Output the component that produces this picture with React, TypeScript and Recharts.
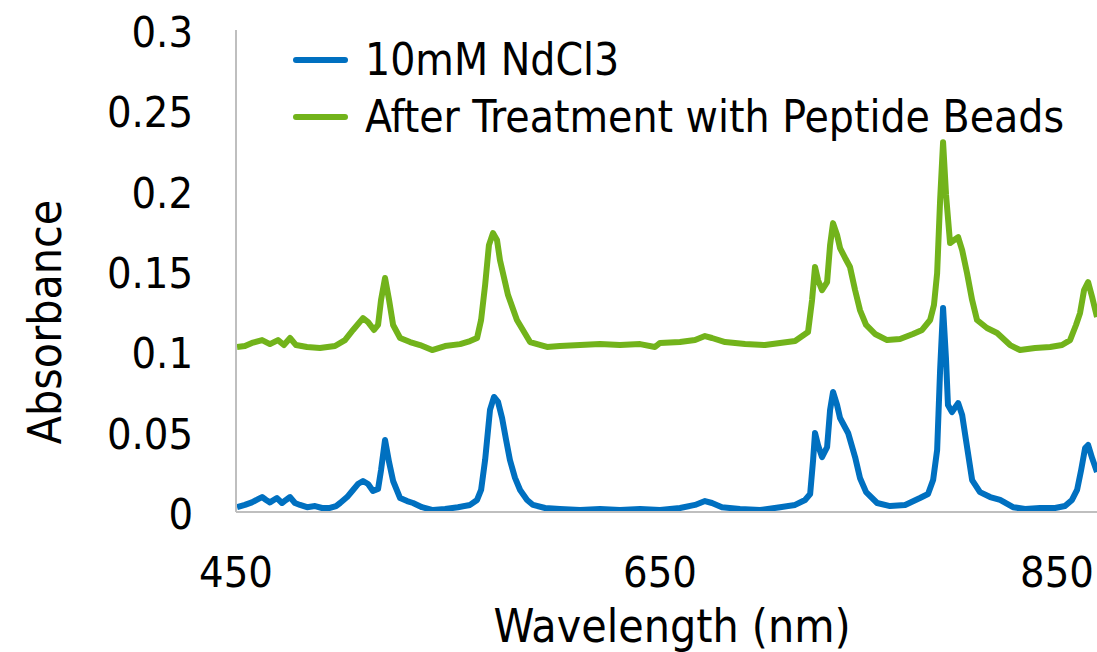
import { LineChart, Line, XAxis, YAxis, Legend, Label } from "recharts";

// wavelength (nm) and absorbance
const ndWavelength = [
  450.5, 454.2, 457.5, 460.4, 462.3, 464.2, 466.0, 469.3, 471.7, 473.6, 475.5, 477.8, 480.2, 483.5, 487.3,
  490.6, 494.3, 497.2, 499.1, 502.4, 505.2, 507.5, 509.9, 512.3, 514.6, 517.0, 518.4, 520.3, 522.2, 524.1,
  527.4, 530.7, 533.5, 537.7, 542.9, 548.6, 554.7, 560.4, 563.7, 565.6, 567.5, 569.8, 571.7, 573.6, 575.5,
  577.4, 579.2, 581.6, 584.0, 587.3, 590.1, 595.8, 602.8, 612.3, 621.7, 631.1, 640.6, 650.0, 659.4, 666.5,
  671.2, 674.5, 679.2, 687.7, 697.2, 706.6, 713.7, 718.4, 720.8, 722.2, 723.1, 724.5, 726.4, 728.8, 730.2,
  731.6, 733.5, 734.9, 738.7, 742.0, 744.3, 747.2, 752.4, 758.5, 765.6, 772.6, 776.4, 778.8, 780.7, 782.1,
  783.5, 784.9, 785.8, 787.7, 790.6, 792.5, 794.3, 797.2, 800.9, 805.7, 810.4, 816.5, 822.2, 829.2, 836.3,
  841.0, 844.3, 846.7, 848.6, 850.5, 851.9, 853.8, 856.1,
];
const ndAbsorbance = [
  0.003, 0.0044, 0.006, 0.008, 0.0093, 0.0075, 0.006, 0.0087, 0.0056, 0.0075, 0.0093, 0.0056, 0.0044, 0.003, 0.0037,
  0.0025, 0.0025, 0.0037, 0.0056, 0.0093, 0.0137, 0.0174, 0.0193, 0.0174, 0.0131, 0.0143, 0.026, 0.0448, 0.031, 0.0193,
  0.0087, 0.0068, 0.0056, 0.003, 0.0012, 0.0019, 0.003, 0.0044, 0.0075, 0.0137, 0.0324, 0.0635, 0.0716, 0.0685, 0.0585,
  0.0448, 0.0324, 0.0212, 0.0137, 0.0075, 0.0044, 0.0025, 0.0019, 0.0012, 0.0019, 0.0012, 0.0019, 0.0012, 0.0025, 0.0044,
  0.0068, 0.0056, 0.003, 0.0019, 0.0012, 0.003, 0.0044, 0.0075, 0.0112, 0.0324, 0.0492, 0.0417, 0.0342, 0.0404, 0.0635,
  0.0747, 0.0666, 0.0585, 0.0492, 0.0342, 0.0212, 0.0124, 0.0056, 0.0037, 0.0044, 0.0087, 0.0112, 0.0199, 0.0386, 0.0884,
  0.127, 0.0946, 0.0666, 0.0622, 0.0678, 0.0604, 0.0448, 0.0199, 0.0124, 0.0093, 0.0075, 0.003, 0.0019, 0.0025, 0.0025,
  0.0037, 0.0075, 0.0137, 0.026, 0.0398, 0.0417, 0.0336, 0.0249,
];

const beadWavelength = [
  450.5, 454.2, 457.5, 462.3, 466.0, 469.8, 472.6, 475.5, 478.3, 483.5, 489.6, 496.7, 501.4, 505.2, 509.9,
  512.3, 515.1, 517.0, 518.4, 520.3, 522.2, 524.1, 527.4, 532.1, 536.8, 542.5, 548.6, 555.7, 560.4, 563.7,
  565.6, 567.5, 569.3, 571.2, 573.1, 574.5, 578.3, 582.5, 588.7, 596.7, 602.8, 612.3, 621.7, 631.1, 640.6,
  647.6, 650.0, 659.4, 666.5, 671.2, 674.5, 680.7, 690.1, 699.5, 706.6, 713.7, 719.8, 721.7, 723.1, 724.5,
  726.4, 728.8, 730.2, 731.6, 733.5, 734.9, 737.3, 739.6, 742.0, 744.3, 747.2, 751.4, 757.1, 763.2, 769.3,
  773.6, 777.4, 779.2, 780.7, 782.1, 783.5, 784.9, 786.8, 788.7, 790.6, 792.5, 794.8, 797.2, 799.5, 804.2,
  809.0, 815.1, 819.8, 826.9, 834.0, 839.6, 843.4, 846.2, 848.1, 850.0, 851.9, 853.8, 856.1,
];
const beadAbsorbance = [
  0.1027, 0.1033, 0.1052, 0.107, 0.1045, 0.107, 0.1039, 0.1083, 0.1039, 0.1027, 0.1021, 0.1033, 0.107, 0.1133, 0.1207,
  0.1182, 0.1133, 0.1164, 0.1319, 0.1456, 0.1319, 0.1164, 0.1083, 0.1058, 0.1039, 0.1008, 0.1033, 0.1045, 0.1064, 0.1083,
  0.1195, 0.1413, 0.1661, 0.1736, 0.1693, 0.1568, 0.135, 0.1195, 0.1058, 0.1027, 0.1033, 0.1039, 0.1045, 0.1039, 0.1045,
  0.1027, 0.1052, 0.1058, 0.107, 0.1095, 0.1083, 0.1058, 0.1045, 0.1039, 0.1052, 0.1064, 0.112, 0.1319, 0.1525, 0.1444,
  0.1381, 0.1431, 0.1661, 0.1798, 0.1724, 0.1643, 0.1581, 0.1525, 0.1381, 0.1257, 0.1164, 0.1108, 0.107, 0.1077, 0.1108,
  0.1133, 0.1195, 0.1288, 0.1487, 0.1941, 0.2302, 0.1973, 0.1674, 0.1693, 0.1711, 0.163, 0.1487, 0.1319, 0.1195, 0.1145,
  0.1114, 0.1039, 0.1008, 0.1021, 0.1027, 0.1039, 0.107, 0.1164, 0.1238, 0.1381, 0.1431, 0.1338, 0.1213,
];

const xTicks = [450, 650, 850];
const yTicks = [0, 0.05, 0.1, 0.15, 0.2, 0.25, 0.3];
const seriesNames = ["10mM NdCl3", "After Treatment with Peptide Beads"];

const BLUE = "#0070C0";
const GREEN = "#72B31B";
const FONT = "'DejaVu Sans Condensed', 'DejaVu Sans', sans-serif";

const ndData = ndWavelength.map((nm, i) => ({ nm, abs: ndAbsorbance[i] }));
const beadData = beadWavelength.map((nm, i) => ({ nm, abs: beadAbsorbance[i] }));

const XTick = (props: any) => {
  const { x, payload } = props;
  const cx = Math.min(x, 1057);
  return (
    <text x={cx} y={572} textAnchor="middle" dominantBaseline="central" fontSize={43} fill="#000" fontFamily={FONT}>
      {payload.value}
    </text>
  );
};

const YTick = (props: any) => {
  const { y, payload } = props;
  return (
    <text x={193} y={y + 2} textAnchor="end" dominantBaseline="central" fontSize={43} fill="#000" fontFamily={FONT}>
      {String(payload.value)}
    </text>
  );
};

const LegendBox = () => (
  <div style={{ fontFamily: FONT, fontSize: 44, color: "#000", lineHeight: "57px" }}>
    {seriesNames.map((name, i) => (
      <div key={name} style={{ display: "flex", alignItems: "center", height: 57 }}>
        <span
          style={{
            display: "inline-block",
            width: 55,
            height: 6,
            borderRadius: 3,
            background: i === 0 ? BLUE : GREEN,
            marginRight: 17,
          }}
        />
        <span>{name}</span>
      </div>
    ))}
  </div>
);

export default function App() {
  return (
    <div style={{ position: "absolute", left: 0, top: 0, width: 1097, height: 652, background: "#fff" }}>
      <LineChart width={1097} height={652} margin={{ top: 30, right: 0, bottom: 0, left: 0 }}>
        <XAxis
          dataKey="nm"
          type="number"
          domain={[450, 856.1]}
          ticks={xTicks}
          allowDataOverflow
          height={140}
          tickLine={false}
          axisLine={{ stroke: "#BFBFBF", strokeWidth: 2 }}
          tick={<XTick />}
          interval={0}
        >
          <Label
            content={() => (
              <text x={672} y={626} textAnchor="middle" dominantBaseline="central" fontSize={46} fill="#000" fontFamily={FONT}>
                Wavelength (nm)
              </text>
            )}
          />
        </XAxis>
        <YAxis
          type="number"
          domain={[0, 0.3]}
          ticks={yTicks}
          width={236}
          tickLine={false}
          axisLine={{ stroke: "#BFBFBF", strokeWidth: 2 }}
          tick={<YTick />}
          interval={0}
        >
          <Label
            content={() => (
              <text
                x={45}
                y={322}
                transform="rotate(-90 45 322)"
                textAnchor="middle"
                dominantBaseline="central"
                fontSize={46}
                fill="#000"
                fontFamily={FONT}
              >
                Absorbance
              </text>
            )}
          />
        </YAxis>
        <Legend
          layout="vertical"
          align="center"
          verticalAlign="middle"
          content={<LegendBox />}
          wrapperStyle={{ left: 293, top: 31, width: 800 }}
        />
        <Line
          data={ndData}
          dataKey="abs"
          name={seriesNames[0]}
          type="linear"
          stroke={BLUE}
          strokeWidth={6}
          strokeLinejoin="round"
          dot={false}
          isAnimationActive={false}
        />
        <Line
          data={beadData}
          dataKey="abs"
          name={seriesNames[1]}
          type="linear"
          stroke={GREEN}
          strokeWidth={6}
          strokeLinejoin="round"
          dot={false}
          isAnimationActive={false}
        />
      </LineChart>
    </div>
  );
}
